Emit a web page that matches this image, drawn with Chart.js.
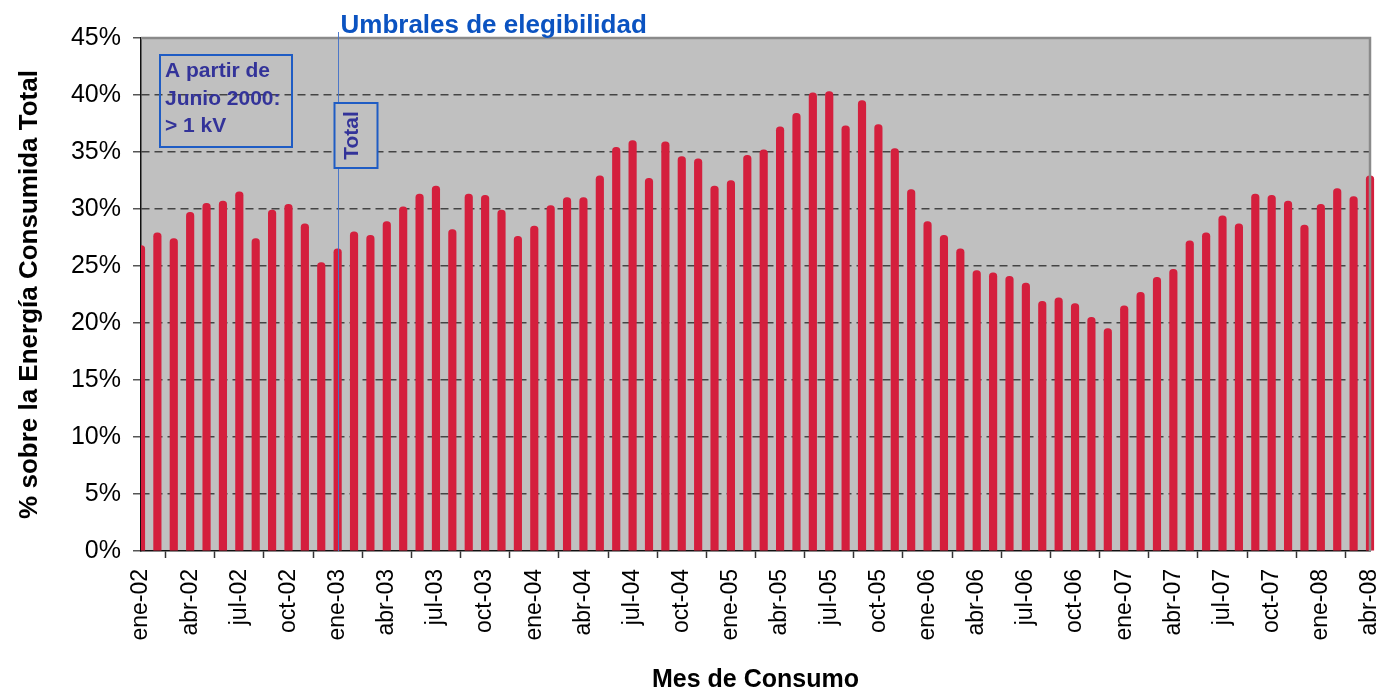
<!DOCTYPE html>
<html>
<head>
<meta charset="utf-8">
<script src="https://cdn.jsdelivr.net/npm/chart.js@4/dist/chart.umd.min.js"></script>
<style>
  body { margin: 0; background: #fff; }
  #wrap { width: 1379px; height: 693px; }
</style>
</head>
<body>
<div id="wrap"><canvas id="myChart" width="1379" height="693"></canvas></div>
<script>
// meses y años para las etiquetas del eje X (ene-02 ... abr-08)
const meses = ['ene', 'feb', 'mar', 'abr', 'may', 'jun', 'jul', 'ago', 'sep', 'oct', 'nov', 'dic'];
const anios = ['02', '03', '04', '05', '06', '07', '08'];
const mesesUltimoAnio = 4;

// % sobre la energía consumida total, por mes
const valores2002 = [26.8, 27.9, 27.4, 29.7, 30.5, 30.7, 31.5, 27.4, 29.9, 30.4, 28.7, 25.3];
const valores2003 = [26.5, 28.0, 27.7, 28.9, 30.2, 31.3, 32.0, 28.2, 31.3, 31.2, 29.9, 27.6];
const valores2004 = [28.5, 30.3, 31.0, 31.0, 32.9, 35.4, 36.0, 32.7, 35.9, 34.6, 34.4, 32.0];
const valores2005 = [32.5, 34.7, 35.2, 37.2, 38.4, 40.2, 40.3, 37.3, 39.5, 37.4, 35.3, 31.7];
const valores2006 = [28.9, 27.7, 26.5, 24.6, 24.4, 24.1, 23.5, 21.9, 22.2, 21.7, 20.5, 19.5];
const valores2007 = [21.5, 22.7, 24.0, 24.7, 27.2, 27.9, 29.4, 28.7, 31.3, 31.2, 30.7, 28.6];
const valores2008 = [30.4, 31.8, 31.1, 32.9];

// marcas del eje Y (en %)
const yMin = 0, yMax = 45, yPaso = 5;

// umbral de elegibilidad marcado con línea vertical
const mesUmbral = 'ene-03';
const textoUmbral = 'Umbrales de elegibilidad';
const textoTotal = 'Total';
const textoNota = ['A partir de', 'Junio 2000:', '> 1 kV'];

const labels = [];
anios.forEach((a, i) => {
    const n = i === anios.length - 1 ? mesesUltimoAnio : 12;
    for (let m = 0; m < n; m++) labels.push(meses[m] + '-' + a);
});
const datos = [].concat(valores2002, valores2003, valores2004, valores2005, valores2006, valores2007, valores2008);

const FUENTE = "'Liberation Sans', Arial, Helvetica, sans-serif";

// fondo gris del área de trazado, bordes y anotaciones
const anotaciones = {
    id: 'anotaciones',
    beforeDraw(chart) {
        const {ctx, chartArea: a} = chart;
        ctx.save();
        ctx.fillStyle = '#c0c0c0';
        ctx.fillRect(a.left, a.top, a.right - a.left, a.bottom - a.top);
        ctx.restore();
    },
    afterDatasetsDraw(chart) {
        const {ctx, chartArea: a} = chart;
        const xs = chart.scales.x;
        ctx.save();

        // borde superior y derecho
        ctx.strokeStyle = '#8a8a8a';
        ctx.lineWidth = 2.5;
        ctx.beginPath();
        ctx.moveTo(a.left, a.top);
        ctx.lineTo(a.right, a.top);
        ctx.lineTo(a.right, a.bottom);
        ctx.stroke();

        // línea vertical del umbral
        const lx = Math.round(xs.getPixelForValue(labels.indexOf(mesUmbral))) + 0.5;
        ctx.strokeStyle = 'rgba(70, 115, 200, 0.95)';
        ctx.lineWidth = 1;
        ctx.beginPath();
        ctx.moveTo(lx, 32);
        ctx.lineTo(lx, a.bottom);
        ctx.stroke();

        // título del umbral
        ctx.fillStyle = '#0b53c1';
        ctx.font = 'bold 26px ' + FUENTE;
        ctx.textAlign = 'left';
        ctx.textBaseline = 'alphabetic';
        ctx.fillText(textoUmbral, lx + 2, 33);

        // caja "Total" (texto vertical)
        const tx = lx - 4, ty = a.top + 65, tw = 43, th = 65;
        ctx.fillStyle = '#c0c0c0';
        ctx.fillRect(tx, ty, tw, th);
        ctx.strokeStyle = '#1f5cc4';
        ctx.lineWidth = 2;
        ctx.strokeRect(tx, ty, tw, th);
        ctx.save();
        ctx.translate(tx + 18, ty + th / 2);
        ctx.rotate(-Math.PI / 2);
        ctx.fillStyle = '#333399';
        ctx.font = 'bold 21px ' + FUENTE;
        ctx.textAlign = 'center';
        ctx.textBaseline = 'middle';
        ctx.fillText(textoTotal, 0, 0);
        ctx.restore();

        // caja de nota
        const bx = a.left + 19, by = a.top + 17, bw = 132, bh = 92;
        ctx.strokeStyle = '#1f5cc4';
        ctx.lineWidth = 2;
        ctx.strokeRect(bx, by, bw, bh);
        ctx.fillStyle = '#333399';
        ctx.font = 'bold 21px ' + FUENTE;
        ctx.textAlign = 'left';
        ctx.textBaseline = 'alphabetic';
        textoNota.forEach((t, i) => ctx.fillText(t, bx + 5, by + 22 + i * 27.5));

        ctx.restore();
    }
};

const ctx = document.getElementById('myChart').getContext('2d');
const myChart = new Chart(ctx, {
    type: 'bar',
    data: {
        labels: labels,
        datasets: [{
            data: datos,
            backgroundColor: 'rgb(212, 31, 61)',
            borderWidth: 0,
            barThickness: 7.5,
            borderRadius: {topLeft: 4, topRight: 4, bottomLeft: 0, bottomRight: 0},
            borderSkipped: 'bottom',
            clip: {left: 0, top: false, right: false, bottom: 0}
        }]
    },
    options: {
        responsive: false,
        animation: false,
        layout: {padding: {left: 0, top: 38, right: 9, bottom: 0}},
        plugins: {
            legend: {display: false},
            tooltip: {enabled: false}
        },
        scales: {
            x: {
                offset: false,
                grid: {
                    drawOnChartArea: false,
                    tickLength: 7,
                    tickColor: '#333',
                    tickWidth: 1.5
                },
                border: {color: '#111', width: 1.5},
                ticks: {
                    autoSkip: false,
                    minRotation: 90,
                    maxRotation: 90,
                    padding: 11,
                    color: '#000',
                    font: {family: FUENTE, size: 23}
                },
                title: {
                    display: true,
                    text: 'Mes de Consumo',
                    color: '#000',
                    font: {family: FUENTE, size: 25, weight: 'bold', lineHeight: 1},
                    padding: {top: 0, bottom: 0}
                },
                afterBuildTicks: (scale) => {
                    scale.ticks = scale.ticks.filter(t => t.value % 3 === 0);
                },
                afterFit: (scale) => {
                    scale.height = 142;
                    scale.paddingLeft = 0;
                    scale.paddingRight = 0;
                }
            },
            y: {
                min: yMin,
                max: yMax,
                grid: {
                    color: (c) => (c.tick && (c.tick.value === yMin || c.tick.value === yMax)) ? 'rgba(0,0,0,0)' : '#444',
                    lineWidth: 1.5,
                    tickLength: 8,
                    tickColor: '#555',
                    tickWidth: 1.5,
                    tickBorderDash: []
                },
                border: {color: '#111', width: 1.5, dash: [8, 5]},
                ticks: {
                    stepSize: yPaso,
                    padding: 12,
                    color: '#000',
                    font: {family: FUENTE, size: 25},
                    callback: (v) => v + '%'
                },
                title: {
                    display: true,
                    text: '% sobre la Energía Consumida Total',
                    color: '#000',
                    font: {family: FUENTE, size: 26, weight: 'bold'},
                    padding: {top: 14, bottom: 0}
                },
                afterFit: (scale) => {
                    scale.width = 141;
                }
            }
        }
    },
    plugins: [anotaciones]
});
</script>
</body>
</html>
